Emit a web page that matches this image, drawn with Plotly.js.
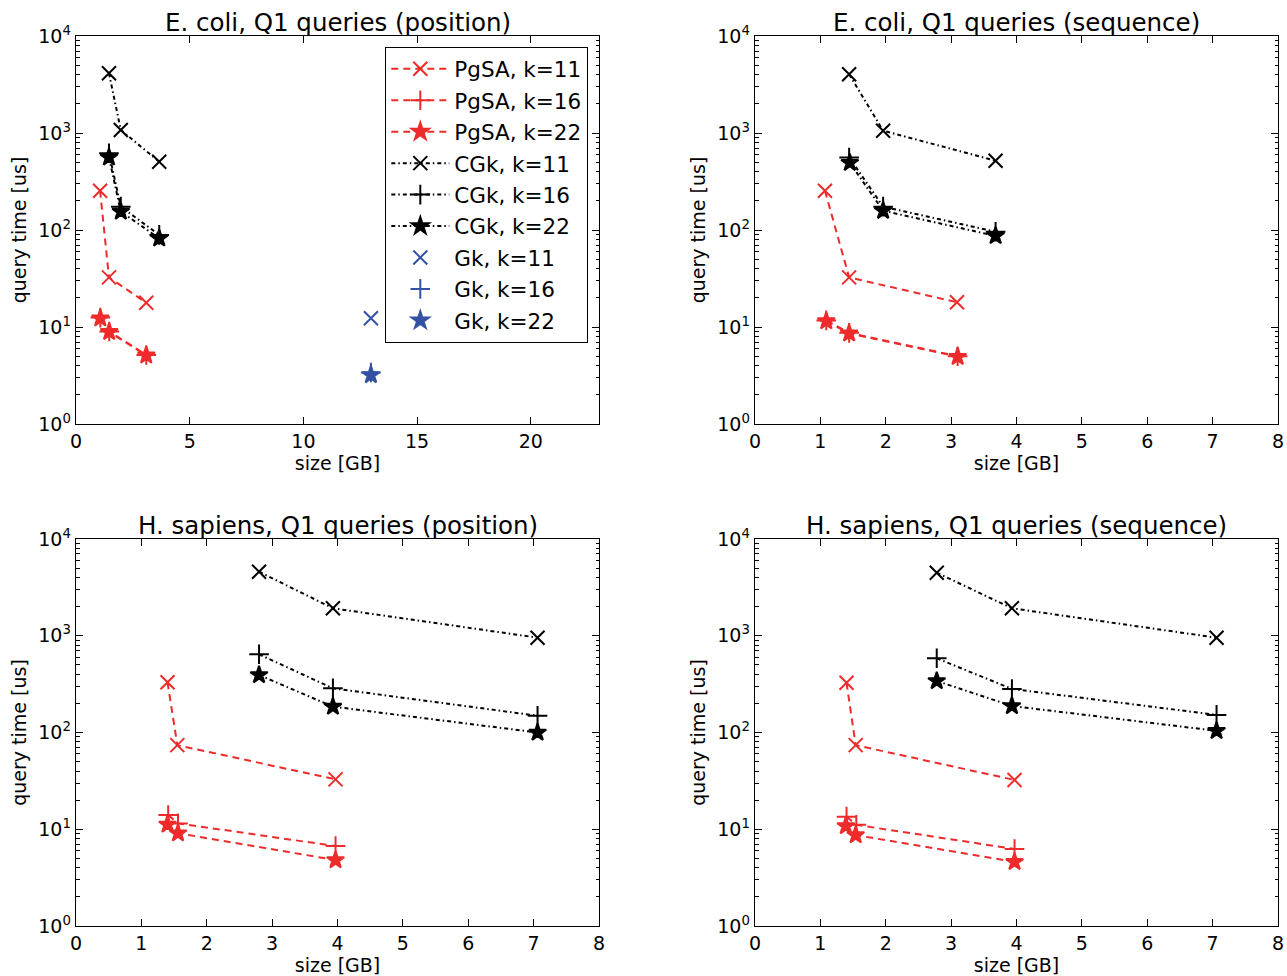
<!DOCTYPE html>
<html>
<head>
<meta charset="utf-8">
<script src="https://cdn.plot.ly/plotly-3.0.1.min.js"></script>
<style>html,body{margin:0;padding:0;background:#fff;}#chart{width:1287px;height:976px;}</style>
</head>
<body>
<div id="chart"></div>
<script>
// ---------- DATA ----------
const subplotTitles = ["E. coli, Q1 queries (position)", "E. coli, Q1 queries (sequence)",
                       "H. sapiens, Q1 queries (position)", "H. sapiens, Q1 queries (sequence)"];
const seriesNames = ["PgSA, k=11", "PgSA, k=16", "PgSA, k=22",
                     "CGk, k=11", "CGk, k=16", "CGk, k=22",
                     "Gk, k=11", "Gk, k=16", "Gk, k=22"];
const yTickVals = [1, 10, 100, 1000, 10000];
const yTickText = ["10<sup>0</sup>", "10<sup>1</sup>", "10<sup>2</sup>", "10<sup>3</sup>", "10<sup>4</sup>"];

// E. coli, position
const ecPos_PgSA11_x = [1.06, 1.45, 3.09];  const ecPos_PgSA11_y = [254, 32.5, 17.8];
const ecPos_PgSA16_x = [1.07, 1.46, 3.09];  const ecPos_PgSA16_y = [12.5, 9.0, 5.15];
const ecPos_PgSA22_x = [1.07, 1.46, 3.09];  const ecPos_PgSA22_y = [12.3, 8.9, 5.1];
const ecPos_CGk11_x  = [1.45, 1.97, 3.66];  const ecPos_CGk11_y  = [4125, 1073, 506];
const ecPos_CGk16_x  = [1.45, 1.97, 3.66];  const ecPos_CGk16_y  = [618, 174, 89];
const ecPos_CGk22_x  = [1.45, 1.97, 3.66];  const ecPos_CGk22_y  = [561, 155, 82];
const ecPos_Gk11_x   = [12.97];             const ecPos_Gk11_y   = [12.3];
const ecPos_Gk16_x   = [12.97];             const ecPos_Gk16_y   = [3.4];
const ecPos_Gk22_x   = [12.97];             const ecPos_Gk22_y   = [3.2];

// E. coli, sequence
const ecSeq_PgSA11_x = [1.07, 1.44, 3.09];  const ecSeq_PgSA11_y = [254, 32.5, 18.0];
const ecSeq_PgSA16_x = [1.09, 1.44, 3.10];  const ecSeq_PgSA16_y = [11.7, 8.7, 5.0];
const ecSeq_PgSA22_x = [1.09, 1.44, 3.10];  const ecSeq_PgSA22_y = [11.5, 8.6, 4.94];
const ecSeq_CGk11_x  = [1.44, 1.96, 3.68];  const ecSeq_CGk11_y  = [4030, 1056, 518];
const ecSeq_CGk16_x  = [1.44, 1.96, 3.68];  const ecSeq_CGk16_y  = [560, 174, 96];
const ecSeq_CGk22_x  = [1.45, 1.96, 3.68];  const ecSeq_CGk22_y  = [494, 158, 87];

// H. sapiens, position
const hsPos_PgSA11_x = [1.40, 1.55, 3.97];  const hsPos_PgSA11_y = [330, 74, 32.8];
const hsPos_PgSA16_x = [1.41, 1.56, 3.97];  const hsPos_PgSA16_y = [14.0, 11.5, 6.7];
const hsPos_PgSA22_x = [1.40, 1.56, 3.97];  const hsPos_PgSA22_y = [11.2, 9.1, 4.8];
const hsPos_CGk11_x  = [2.80, 3.93, 7.06];  const hsPos_CGk11_y  = [4590, 1923, 955];
const hsPos_CGk16_x  = [2.80, 3.93, 7.06];  const hsPos_CGk16_y  = [643, 286, 149];
const hsPos_CGk22_x  = [2.80, 3.93, 7.06];  const hsPos_CGk22_y  = [393, 185, 100];

// H. sapiens, sequence
const hsSeq_PgSA11_x = [1.40, 1.54, 3.97];  const hsSeq_PgSA11_y = [327, 74, 32.3];
const hsSeq_PgSA16_x = [1.40, 1.55, 3.97];  const hsSeq_PgSA16_y = [13.5, 11.1, 6.25];
const hsSeq_PgSA22_x = [1.39, 1.54, 3.97];  const hsSeq_PgSA22_y = [10.8, 8.7, 4.6];
const hsSeq_CGk11_x  = [2.78, 3.93, 7.06];  const hsSeq_CGk11_y  = [4487, 1923, 955];
const hsSeq_CGk16_x  = [2.78, 3.93, 7.06];  const hsSeq_CGk16_y  = [585, 282, 152];
const hsSeq_CGk22_x  = [2.78, 3.93, 7.06];  const hsSeq_CGk22_y  = [341, 188, 104];

// ---------- STYLE ----------
const RED = '#ee2b2b', BLACK = '#000000', BLUE = '#3452a4';
const FONT = 'DejaVu Sans, Verdana, sans-serif';
const styles = {
  "PgSA, k=11": {color: RED,   symbol: 'x-thin-open',     dash: '7px,5px',            size: 14},
  "PgSA, k=16": {color: RED,   symbol: 'cross-thin-open', dash: '7px,5px',            size: 14},
  "PgSA, k=22": {color: RED,   symbol: 'star',            dash: '7px,5px',            size: 13},
  "CGk, k=11":  {color: BLACK, symbol: 'x-thin-open',     dash: '4px,3px,1.5px,3px',  size: 14},
  "CGk, k=16":  {color: BLACK, symbol: 'cross-thin-open', dash: '4px,3px,1.5px,3px',  size: 14},
  "CGk, k=22":  {color: BLACK, symbol: 'star',            dash: '4px,3px,1.5px,3px',  size: 13},
  "Gk, k=11":   {color: BLUE,  symbol: 'x-thin-open',     dash: null,                 size: 14},
  "Gk, k=16":   {color: BLUE,  symbol: 'cross-thin-open', dash: null,                 size: 14},
  "Gk, k=22":   {color: BLUE,  symbol: 'star',            dash: null,                 size: 13}
};

function mk(name, xs, ys, axIdx, showLegend) {
  const s = styles[name];
  const suffix = axIdx === 1 ? '' : String(axIdx);
  const t = {
    type: 'scatter', name: name, x: xs, y: ys,
    xaxis: 'x' + suffix, yaxis: 'y' + suffix,
    mode: s.dash ? 'lines+markers' : 'markers',
    showlegend: showLegend, legendgroup: name,
    marker: {symbol: s.symbol, size: s.size, color: s.color, line: {color: s.color, width: 2}},
    cliponaxis: false
  };
  if (s.dash) t.line = {color: s.color, width: 2, dash: s.dash};
  return t;
}

const traces = [
  mk("PgSA, k=11", ecPos_PgSA11_x, ecPos_PgSA11_y, 1, true),
  mk("PgSA, k=16", ecPos_PgSA16_x, ecPos_PgSA16_y, 1, true),
  mk("PgSA, k=22", ecPos_PgSA22_x, ecPos_PgSA22_y, 1, true),
  mk("CGk, k=11",  ecPos_CGk11_x,  ecPos_CGk11_y,  1, true),
  mk("CGk, k=16",  ecPos_CGk16_x,  ecPos_CGk16_y,  1, true),
  mk("CGk, k=22",  ecPos_CGk22_x,  ecPos_CGk22_y,  1, true),
  mk("Gk, k=11",   ecPos_Gk11_x,   ecPos_Gk11_y,   1, true),
  mk("Gk, k=16",   ecPos_Gk16_x,   ecPos_Gk16_y,   1, true),
  mk("Gk, k=22",   ecPos_Gk22_x,   ecPos_Gk22_y,   1, true),

  mk("PgSA, k=11", ecSeq_PgSA11_x, ecSeq_PgSA11_y, 2, false),
  mk("PgSA, k=16", ecSeq_PgSA16_x, ecSeq_PgSA16_y, 2, false),
  mk("PgSA, k=22", ecSeq_PgSA22_x, ecSeq_PgSA22_y, 2, false),
  mk("CGk, k=11",  ecSeq_CGk11_x,  ecSeq_CGk11_y,  2, false),
  mk("CGk, k=16",  ecSeq_CGk16_x,  ecSeq_CGk16_y,  2, false),
  mk("CGk, k=22",  ecSeq_CGk22_x,  ecSeq_CGk22_y,  2, false),

  mk("PgSA, k=11", hsPos_PgSA11_x, hsPos_PgSA11_y, 3, false),
  mk("PgSA, k=16", hsPos_PgSA16_x, hsPos_PgSA16_y, 3, false),
  mk("PgSA, k=22", hsPos_PgSA22_x, hsPos_PgSA22_y, 3, false),
  mk("CGk, k=11",  hsPos_CGk11_x,  hsPos_CGk11_y,  3, false),
  mk("CGk, k=16",  hsPos_CGk16_x,  hsPos_CGk16_y,  3, false),
  mk("CGk, k=22",  hsPos_CGk22_x,  hsPos_CGk22_y,  3, false),

  mk("PgSA, k=11", hsSeq_PgSA11_x, hsSeq_PgSA11_y, 4, false),
  mk("PgSA, k=16", hsSeq_PgSA16_x, hsSeq_PgSA16_y, 4, false),
  mk("PgSA, k=22", hsSeq_PgSA22_x, hsSeq_PgSA22_y, 4, false),
  mk("CGk, k=11",  hsSeq_CGk11_x,  hsSeq_CGk11_y,  4, false),
  mk("CGk, k=16",  hsSeq_CGk16_x,  hsSeq_CGk16_y,  4, false),
  mk("CGk, k=22",  hsSeq_CGk22_x,  hsSeq_CGk22_y,  4, false)
];

// ---------- LAYOUT ----------
const W = 1287, H = 976;
const colDom = [[76 / W, 599 / W], [755 / W, 1278 / W]];
const rowDom = [[(H - 424) / H, (H - 36) / H], [(H - 926) / H, (H - 539) / H]];
const tickFont = {family: FONT, size: 19, color: '#000'};

function xax(dom, anchor, range, dtick) {
  return {
    domain: dom, anchor: anchor, range: range, dtick: dtick, tick0: 0,
    showgrid: false, zeroline: false, showline: true, linecolor: '#000', linewidth: 1.3,
    mirror: 'ticks', ticks: 'inside', ticklen: 7, tickwidth: 1, tickcolor: '#000',
    tickfont: tickFont,
    title: {text: 'size [GB]', font: {family: FONT, size: 19, color: '#000'}, standoff: 2}
  };
}
function yax(dom, anchor) {
  return {
    domain: dom, anchor: anchor, type: 'log', range: [0, 4],
    tickvals: yTickVals, ticktext: yTickText,
    showgrid: false, zeroline: false, showline: true, linecolor: '#000', linewidth: 1.3,
    mirror: 'ticks', ticks: 'inside', ticklen: 7, tickwidth: 1, tickcolor: '#000',
    minor: {ticks: 'inside', ticklen: 3.5, tickcolor: '#000', tickwidth: 1, dtick: 'D1', showgrid: false},
    tickfont: tickFont,
    title: {text: 'query time [us]', font: {family: FONT, size: 19, color: '#000'}, standoff: 6}
  };
}

const annotations = [];
const cells = [[0, 0], [1, 0], [0, 1], [1, 1]];
cells.forEach((c, i) => {
  const xd = colDom[c[0]], yd = rowDom[c[1]];
  annotations.push({
    text: subplotTitles[i], xref: 'paper', yref: 'paper',
    x: (xd[0] + xd[1]) / 2, y: yd[1], xanchor: 'center', yanchor: 'bottom', yshift: -3,
    showarrow: false, font: {family: FONT, size: 24.5, color: '#000'}
  });
});

const layout = {
  width: W, height: H,
  margin: {l: 0, r: 0, t: 0, b: 0},
  paper_bgcolor: '#fff', plot_bgcolor: '#fff',
  font: {family: FONT, color: '#000'},
  showlegend: true,
  legend: {
    x: 588 / W, y: (H - 47) / H, xanchor: 'right', yanchor: 'top',
    bgcolor: '#fff', bordercolor: '#000', borderwidth: 1.3,
    font: {family: FONT, size: 21.5, color: '#000'},
    tracegroupgap: 0.5, itemwidth: 58
  },
  xaxis:  xax(colDom[0], 'y',  [0, 23], 5),
  yaxis:  yax(rowDom[0], 'x'),
  xaxis2: xax(colDom[1], 'y2', [0, 8], 1),
  yaxis2: yax(rowDom[0], 'x2'),
  xaxis3: xax(colDom[0], 'y3', [0, 8], 1),
  yaxis3: yax(rowDom[1], 'x3'),
  xaxis4: xax(colDom[1], 'y4', [0, 8], 1),
  yaxis4: yax(rowDom[1], 'x4'),
  annotations: annotations
};

Plotly.newPlot('chart', traces, layout, {staticPlot: true, displayModeBar: false});
</script>
</body>
</html>
